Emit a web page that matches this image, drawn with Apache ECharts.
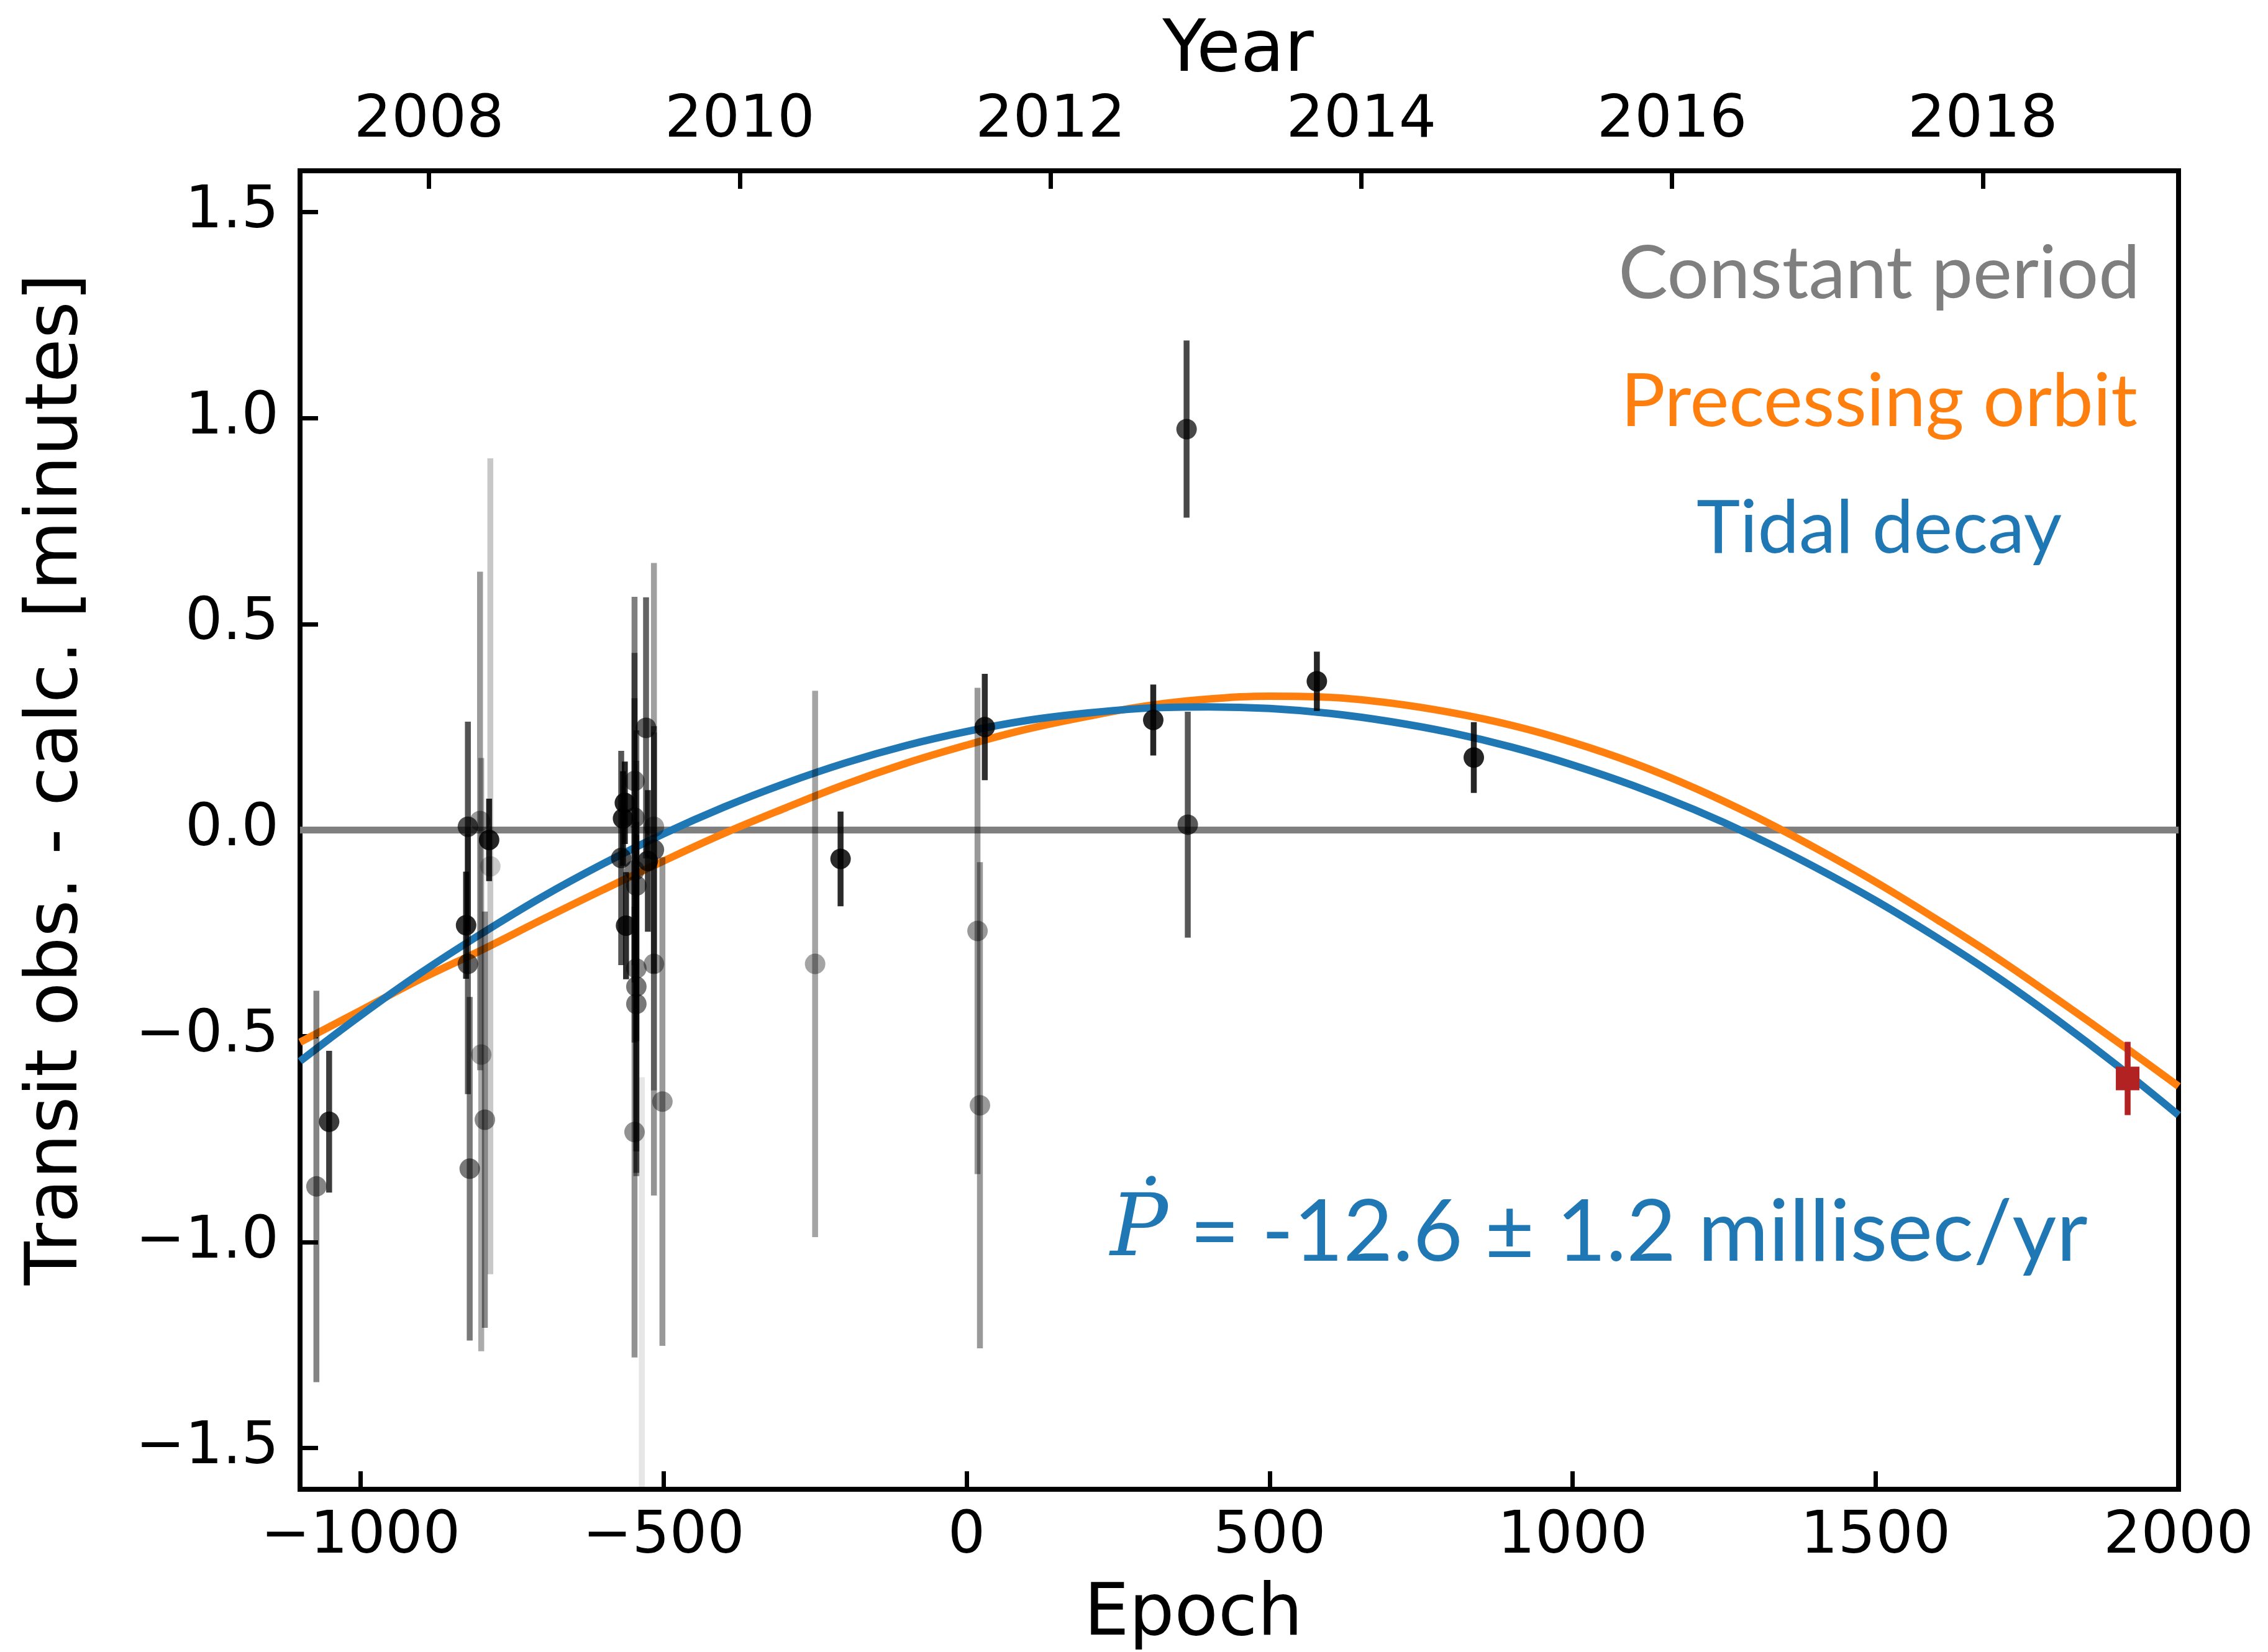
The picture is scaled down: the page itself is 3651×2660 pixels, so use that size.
<!DOCTYPE html>
<html>
<head>
<meta charset="utf-8">
<title>Transit timing residuals</title>
<script src="https://cdn.jsdelivr.net/npm/echarts@6.0.0/dist/echarts.min.js"></script>
<style>
  html, body { margin: 0; padding: 0; background: #fff; }
  #chart { width: 3651px; height: 2660px; }
</style>
</head>
<body>
<div id="chart"></div>
<script>
// archival transits: epoch, O-C [minutes], 1-sigma error [minutes]
var obsEpoch = [-1073, -1052, -823, -826, -823, -820, -803, -788, -786, -801, -795,
  -570, -564, -567, -562, -548, -548, -548, -548, -545, -545, -545, -545, -529, -526,
  -516, -516, -516, -502, -536, -250, -208, 18, 22, 30, 308, 363, 365, 578, 837];
var obsOC = [-0.865, -0.708, 0.008, -0.231, -0.325, -0.822, 0.022, -0.024, -0.088, -0.545, -0.703,
  -0.068, 0.066, 0.028, -0.232, 0.119, 0.030, -0.098, -0.733, -0.135, -0.336, -0.380, -0.422, 0.248, -0.075,
  0.008, -0.048, -0.325, -0.659, -2.1, -0.325, -0.070, -0.245, -0.668, 0.250, 0.267, 0.973, 0.013, 0.361, 0.176];
var obsErr = [0.475, 0.172, 0.255, 0.13, 0.316, 0.417, 0.605, 0.10, 0.99, 0.72, 0.505,
  0.26, 0.10, 0.115, 0.13, 0.447, 0.40, 0.418, 0.547, 0.377, 0.504, 0.40, 0.41, 0.317, 0.172,
  0.64, 0.30, 0.562, 0.593, 1.5, 0.663, 0.115, 0.59, 0.59, 0.129, 0.086, 0.215, 0.274, 0.072, 0.086];

// new (TESS) transit
var newEpoch = [1916];
var newOC = [-0.603];
var newErr = [0.089];

// model curves
var modelEpoch = [-1100, -1000, -900, -800, -700, -600, -500, -400, -300, -200, -100, 0,
  100, 200, 300, 400, 500, 600, 700, 800, 900, 1000, 1100, 1200, 1300, 1400, 1500,
  1600, 1700, 1800, 1900, 2000];
var precessOC = [-0.515, -0.438, -0.361, -0.291, -0.217, -0.145, -0.075, -0.008, 0.053, 0.111, 0.162, 0.206,
  0.245, 0.276, 0.302, 0.318, 0.325, 0.322, 0.308, 0.285, 0.254, 0.213, 0.163, 0.103, 0.034, -0.043, -0.126,
  -0.216, -0.310, -0.411, -0.515, -0.622];
var decayOC = [-0.561, -0.450, -0.346, -0.251, -0.162, -0.082, -0.009, 0.056, 0.113, 0.163, 0.205, 0.239,
  0.266, 0.284, 0.296, 0.299, 0.295, 0.283, 0.263, 0.236, 0.201, 0.158, 0.108, 0.050, -0.016, -0.090, -0.171,
  -0.260, -0.356, -0.461, -0.573, -0.692];
var constEpoch = [-1100, 2000];
var constOC = [0, 0];

// axes
var epochRange = [-1100, 2000];
var ocRange = [-1.6, 1.6];
var epochTicks = [-1000, -500, 0, 500, 1000, 1500, 2000];
var ocTicks = [-1.5, -1.0, -0.5, 0, 0.5, 1.0, 1.5];
var yearRange = [2007.17, 2019.26];
var yearTicks = [2008, 2010, 2012, 2014, 2016, 2018];

function minus(s) { return String(s).replace('-', '\u2212'); }
// points with bigger error bars are drawn fainter
function alphaFor(e) { return Math.min(0.85, Math.exp(-1.55 * e)); }

function zip(xs, ys) { return xs.map(function (x, i) { return [x, ys[i]]; }); }

var tickStyle = { show: true, inside: true, length: 29, lineStyle: { color: '#000', width: 7 } };
var labelFont = { fontFamily: 'DejaVu Sans', fontSize: 95, color: '#000' };
var noLine = { show: false, onZero: false };

function errRender(color, width) {
  return function (params, api) {
    var x = api.value(0), y = api.value(1), e = api.value(2);
    var p1 = api.coord([x, y - e]);
    var p2 = api.coord([x, y + e]);
    return {
      type: 'line',
      shape: { x1: p1[0], y1: p1[1], x2: p2[0], y2: p2[1] },
      style: { stroke: color, lineWidth: width, opacity: color === '#000' ? alphaFor(e) : 1 }
    };
  };
}

var chart = echarts.init(document.getElementById('chart'), null, { renderer: 'canvas' });

chart.setOption({
  animation: false,
  backgroundColor: '#fff',
  grid: {
    left: 483, top: 275, width: 3024, height: 2123,
    show: true, borderColor: '#000', borderWidth: 8, backgroundColor: 'transparent'
  },
  xAxis: [
    {
      type: 'value', position: 'bottom', min: epochRange[0], max: epochRange[1],
      axisLine: noLine, splitLine: { show: false },
      axisTick: Object.assign({ customValues: epochTicks }, tickStyle),
      axisLabel: Object.assign({ customValues: epochTicks, margin: 30, formatter: minus }, labelFont)
    },
    {
      type: 'value', position: 'top', min: yearRange[0], max: yearRange[1],
      axisLine: noLine, splitLine: { show: false },
      axisTick: Object.assign({ customValues: yearTicks }, tickStyle),
      axisLabel: Object.assign({
        customValues: yearTicks, margin: 32,
        formatter: function (v) { return String(Math.round(v)); }
      }, labelFont)
    }
  ],
  yAxis: {
    type: 'value', min: ocRange[0], max: ocRange[1],
    axisLine: noLine, splitLine: { show: false },
    axisTick: Object.assign({ customValues: ocTicks }, tickStyle),
    axisLabel: Object.assign({
      customValues: ocTicks, margin: 34,
      formatter: function (v) { return minus(v.toFixed(1)); }
    }, labelFont)
  },
  series: [
    {
      name: 'Constant period', type: 'line', data: zip(constEpoch, constOC),
      symbol: 'none', lineStyle: { color: '#7f7f7f', width: 11 }, z: 1
    },
    {
      name: 'Precessing orbit', type: 'line', data: zip(modelEpoch, precessOC),
      symbol: 'none', smooth: 0.4, lineStyle: { color: '#ff7f0e', width: 12 }, z: 1
    },
    {
      name: 'Tidal decay', type: 'line', data: zip(modelEpoch, decayOC),
      symbol: 'none', smooth: 0.4, lineStyle: { color: '#1f77b4', width: 12 }, z: 1
    },
    {
      type: 'custom', clip: true, z: 3,
      data: obsEpoch.map(function (x, i) { return [x, obsOC[i], obsErr[i]]; }),
      renderItem: errRender('#000', 9.5)
    },
    {
      type: 'scatter', z: 3, symbolSize: 33, clip: true,
      data: obsEpoch.map(function (x, i) {
        return { value: [x, obsOC[i]], itemStyle: { color: '#000', opacity: alphaFor(obsErr[i]) } };
      })
    },
    {
      type: 'custom', clip: true, z: 4,
      data: newEpoch.map(function (x, i) { return [x, newOC[i], newErr[i]]; }),
      renderItem: errRender('#b22222', 9.5)
    },
    {
      type: 'scatter', z: 4, symbol: 'rect', symbolSize: 38,
      itemStyle: { color: '#b22222', opacity: 1 },
      data: zip(newEpoch, newOC)
    }
  ],
  graphic: [
    { type: 'text', x: 1993, y: 84, style: { text: 'Year', font: '115px "DejaVu Sans"', fill: '#000', textAlign: 'center', textVerticalAlign: 'middle' } },
    { type: 'text', x: 1921, y: 2602, style: { text: 'Epoch', font: '115px "DejaVu Sans"', fill: '#000', textAlign: 'center', textVerticalAlign: 'middle' } },
    { type: 'text', x: 93, y: 1255, rotation: Math.PI / 2, style: { text: 'Transit obs. - calc. [minutes]', font: '115px "DejaVu Sans"', fill: '#000', textAlign: 'center', textVerticalAlign: 'middle' } },
    { type: 'text', x: 3025, y: 442, style: { text: 'Constant period', font: '119px Lato', fill: '#7f7f7f', textAlign: 'center', textVerticalAlign: 'middle' } },
    { type: 'text', x: 3025, y: 648, style: { text: 'Precessing orbit', font: '119px Lato', fill: '#ff7f0e', textAlign: 'center', textVerticalAlign: 'middle' } },
    { type: 'text', x: 3025, y: 852, style: { text: 'Tidal decay', font: '119px Lato', fill: '#1f77b4', textAlign: 'center', textVerticalAlign: 'middle' } },
    {
      type: 'text', x: 2574, y: 1985,
      style: {
        text: '{p|\u1E56} = -12.6 \u00B1 1.2 millisec/yr', font: '138px Lato', fill: '#1f77b4',
        textAlign: 'center', textVerticalAlign: 'middle',
        rich: { p: { fontFamily: 'DejaVu Serif', fontStyle: 'italic', fontSize: 138, fill: '#1f77b4' } }
      }
    }
  ]
});
</script>
</body>
</html>
